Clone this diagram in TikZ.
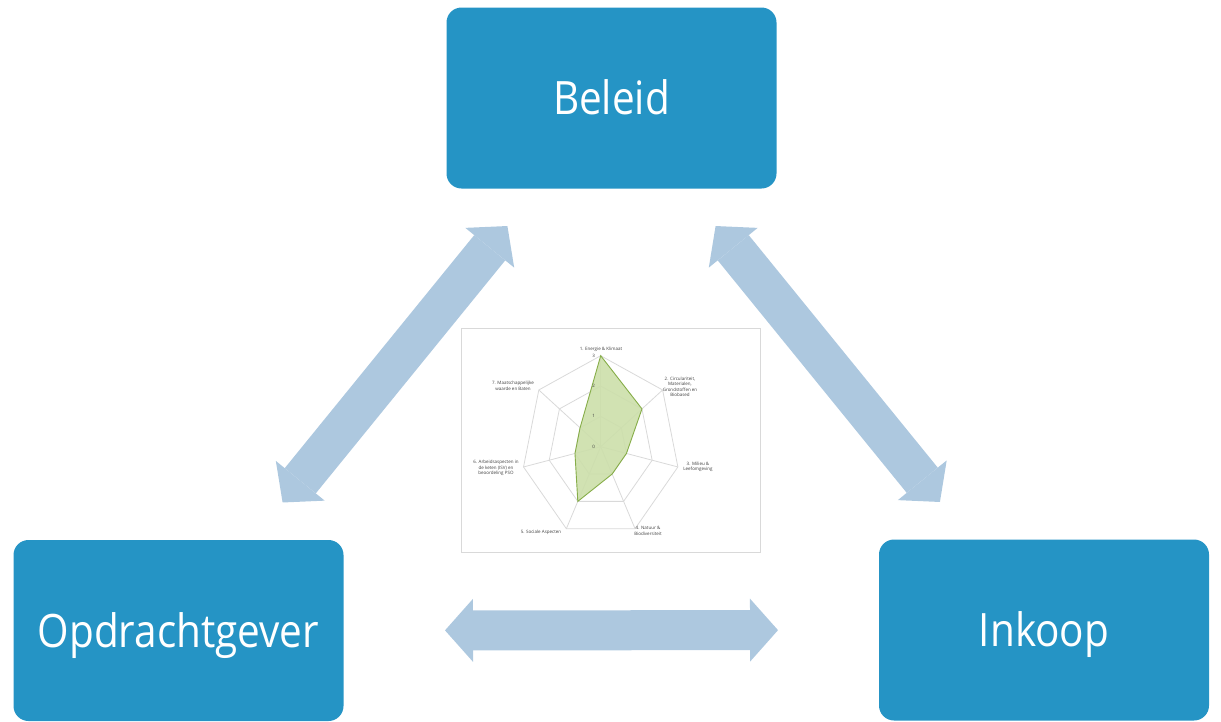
\documentclass[tikz,border=0pt]{standalone}
\usepackage{fontspec}
\setmainfont{Open Sans}
\usetikzlibrary{arrows.meta}
\definecolor{boxblue}{HTML}{2594C5}
\definecolor{arrowblue}{HTML}{ADC8DF}
\definecolor{gridgray}{HTML}{D9D9D9}
\definecolor{radarfill}{HTML}{CCDFAA}
\definecolor{radarline}{HTML}{86AD48}
\definecolor{labelgray}{HTML}{404040}
\tikzset{
  rolebox/.style={fill=boxblue, rounded corners=15pt, minimum width=330pt, minimum height=181pt, inner sep=0pt, text=white, font=\fontsize{46}{50}\selectfont, text height=33pt, text depth=0pt},
  flow/.style={draw=arrowblue, line width=40pt, {Triangle[length=28pt,width=63pt,line width=0pt]}-{Triangle[length=28pt,width=63pt,line width=0pt]}},
  axislabel/.style={font=\fontsize{4.5}{5.5}\selectfont, text=labelgray, align=center, inner sep=0pt},
  gridline/.style={draw=gridgray, line width=0.8pt}
}
\newcommand{\sq}[1]{\scalebox{0.88}[1]{#1}}
\begin{document}
\begin{tikzpicture}[x=1pt,y=-1pt]
	\useasboundingbox (0,0) rectangle (1221,721);
	\node[rolebox] (beleid) at (611.5,98) {\sq{Beleid}};
	\node[rolebox] (opdrachtgever) at (178.5,630.5) {\sq{Opdrachtgever}};
	\node[rolebox] (inkoop) at (1044,630) {\sq{Inkoop}};
	\draw[flow, shorten <=165pt, shorten >=165pt] (opdrachtgever.center) -- (beleid.center);
	\draw[flow, shorten <=165pt, shorten >=165pt] (inkoop.center) -- (beleid.center);
	\draw[flow, shorten <=266.5pt, shorten >=266pt] (opdrachtgever.center) -- (inkoop.center);
	\draw[gridgray, line width=1pt] (461,328) rectangle (760,552);
	\begin{scope}[shift={(600.7,446.7)}, x=0.87pt, y=1pt]
		\foreach \r in {30.33,60.67,91}
			\draw[gridline] (90:\r) \foreach \k in {1,...,6} { -- ({90-\k*360/7}:\r) } -- cycle;
		\foreach \k in {0,...,6}
			\draw[gridline] (0,0) -- ({90-\k*360/7}:91);
		\draw[radarline, fill=radarfill, fill opacity=0.9, line width=0.9pt] (90:91) -- (38.57:60.67) -- (-12.86:30.33) -- (-64.29:30.33) -- (-115.71:60.67) -- (-167.14:30.33) -- (141.43:30.33) -- cycle;
		\foreach \l [count=\i from 0] in {0,1,2,3}
			\node[axislabel] at (-8,\i*30.33) {\l};
	\end{scope}
	\node[axislabel] (as1) at (601,349) {1. Energie \& Klimaat};
	\node[axislabel] (as2) at (680,387) {2. Circulariteit,\\Materialen,\\Grondstoffen en\\Biobased};
	\node[axislabel] (as3) at (698,467) {3. Milieu \&\\Leefomgeving};
	\node[axislabel] (as4) at (648,531) {4. Natuur \&\\Biodiversiteit};
	\node[axislabel] (as5) at (541,532) {5. Sociale Aspecten};
	\node[axislabel] (as6) at (496,468) {6. Arbeidsaspecten in\\de keten (ISV) en\\beoordeling PSO};
	\node[axislabel] (as7) at (513,386) {7. Maatschappelijke\\waarde en Baten};
\end{tikzpicture}
\end{document}
